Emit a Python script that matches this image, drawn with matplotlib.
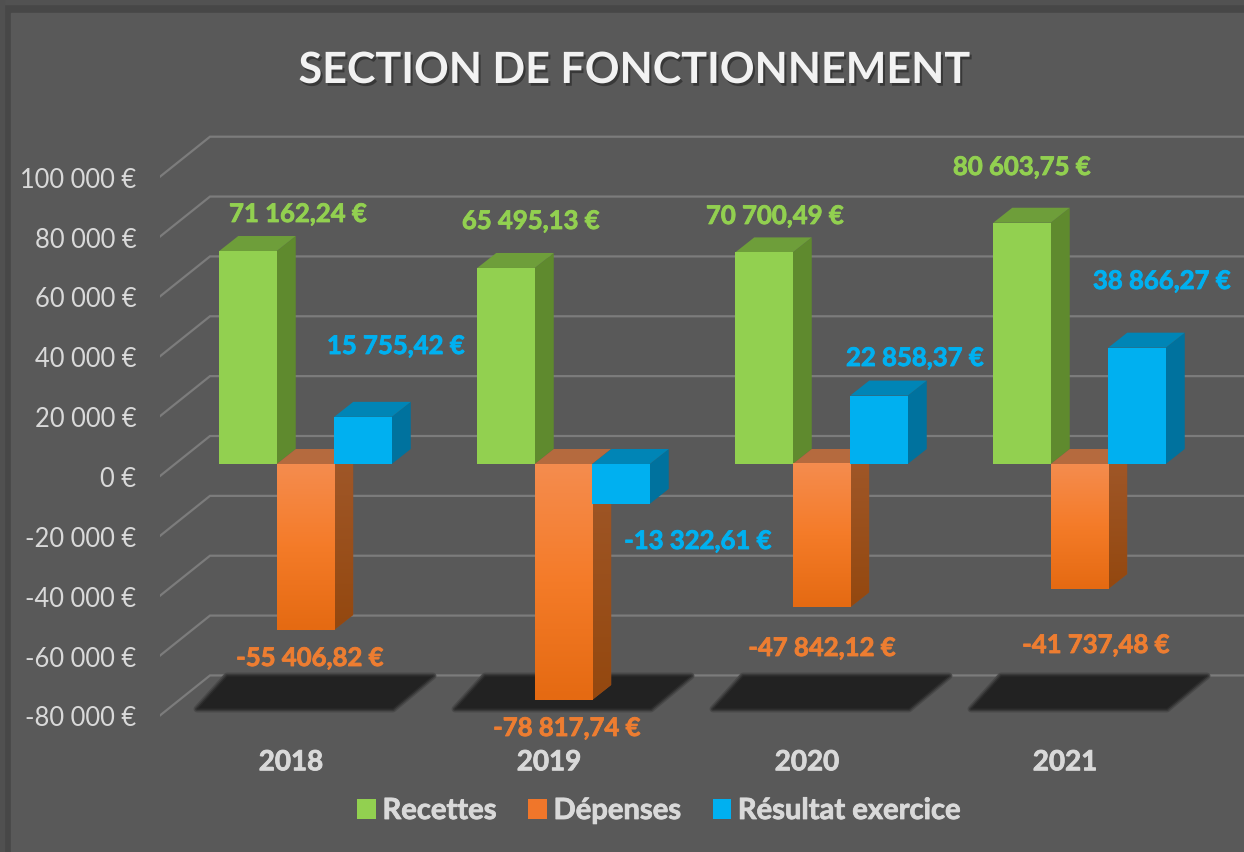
import numpy as np
import matplotlib
matplotlib.use("Agg")
import matplotlib.pyplot as plt
import matplotlib.patheffects as pe
from matplotlib.patches import Polygon, Rectangle

plt.rcParams['font.family'] = ['Lato', 'DejaVu Sans']

years = ["2018", "2019", "2020", "2021"]
recettes = [71162.24, 65495.13, 70700.49, 80603.75]
depenses = [-55406.82, -78817.74, -47842.12, -41737.48]
resultat = [15755.42, -13322.61, 22858.37, 38866.27]
axis_values = [100000, 80000, 60000, 40000, 20000, 0, -20000, -40000, -60000, -80000]

series_names = ["Recettes", "Dépenses", "Résultat exercice"]
series_values = [recettes, depenses, resultat]
front_colors = ["#92D050", "#F0762A", "#00B0F0"]
top_colors = ["#6E9E3A", "#B56A3E", "#0085B6"]
side_colors = ["#5F8A2E", "#9A5022", "#00729E"]
label_colors = ["#92D050", "#ED7D31", "#00B0F0"]

# label centres in picture pixels
label_pos = [
    [(298, 215), (531, 222), (775, 217), (1022, 168)],
    [(310, 659), (567, 729), (822, 649), (1096, 646)],
    [(396, 347), (698, 542), (915, 359), (1162, 282)],
]

W, H = 1244, 853
PX_PER_UNIT = 0.002993
STEP = 258.0
CENTER0 = 305.5
Y0 = 465.0
AX_TOP, AX_BOTTOM = 14, 735
AX_LEFT = 160


def data_x(px):
    return (px - CENTER0) / STEP


def data_y(py):
    return (Y0 - py) / PX_PER_UNIT


def fmt_euro(v):
    s = f"{abs(v):,.2f}".replace(",", " ").replace(".", ",")
    return ("-" if v < 0 else "") + s + " €"


def heavier(color):
    # Lato bold is a bit lighter than the original font
    return [pe.withStroke(linewidth=0.6, foreground=color)]


fig = plt.figure(figsize=(W / 100, H / 100), dpi=100, facecolor="#595959")

# darker frame around the chart
fig.patches.append(Rectangle((0, 0), 1, 1, transform=fig.transFigure, color="#474747", zorder=-5))
fig.patches.append(Rectangle((0, 1 - 5 / H), 1, 5 / H, transform=fig.transFigure, color="#525252", zorder=-4))
fig.patches.append(Rectangle((0, 0), 4 / W, 1, transform=fig.transFigure, color="#505050", zorder=-4))
fig.patches.append(Rectangle((11 / W, 0), 1 - 11 / W, 1 - 14 / H, transform=fig.transFigure,
                             color="#595959", zorder=-3))

ax = fig.add_axes([AX_LEFT / W, 1 - AX_BOTTOM / H, (W - AX_LEFT) / W, (AX_BOTTOM - AX_TOP) / H])
ax.patch.set_visible(False)
for s in ax.spines.values():
    s.set_visible(False)
xlim = (data_x(AX_LEFT), data_x(W))
ylim = (data_y(AX_BOTTOM), data_y(AX_TOP))

bar_w = 57.5 / STEP
dx = 19 / STEP
dy = 15 / PX_PER_UNIT
back_dy = 28 / PX_PER_UNIT   # back wall compared to the bars front
front_dy = -12 / PX_PER_UNIT  # axis front edge compared to the bars front

# gridlines on the back wall + the diagonal part
for v in axis_values:
    ax.plot([data_x(160), data_x(210), data_x(W)],
            [v + front_dy, v + back_dy, v + back_dy],
            color="#7c7c7c", lw=1.6, zorder=1, solid_joinstyle="miter")

# floor shadows, soft edge from a few wide strokes
for i in range(len(years)):
    c = i * STEP
    pts = [(197 + c, 710), (393 + c, 710), (433 + c, 677), (227 + c, 677)]
    pts = [(data_x(a), data_y(b)) for a, b in pts]
    for lw, col in [(5, "#4a4a4a"), (3, "#3a3a3a"), (1, "#2a2a2a")]:
        ax.add_patch(Polygon(pts, closed=True, facecolor="#222222", edgecolor=col, lw=lw,
                             joinstyle="round", zorder=2))

handles = []
z = 3
for s in range(3):
    offset = (s - 1) * bar_w
    bars = ax.bar(np.arange(len(years)) + offset, series_values[s], width=bar_w,
                  color=front_colors[s], zorder=z + 2 + 10 * s, label=series_names[s])
    handles.append(bars)
    for i, v in enumerate(series_values[s]):
        x0 = i + offset - bar_w / 2
        x1 = x0 + bar_w
        top = max(v, 0)
        low = min(v, 0)
        zz = z + 10 * s
        side = Polygon([(x1, top), (x1 + dx, top + dy), (x1 + dx, low + dy), (x1, low)],
                       closed=True, facecolor=side_colors[s], edgecolor="none", zorder=zz)
        cap = Polygon([(x0, top), (x1, top), (x1 + dx, top + dy), (x0 + dx, top + dy)],
                      closed=True, facecolor=top_colors[s], edgecolor="none", zorder=zz)
        ax.add_patch(side)
        ax.add_patch(cap)
        if s == 1:
            # orange bars fade down, the other series are flat
            grad = np.linspace(0, 1, 100).reshape(-1, 1)
            cm = matplotlib.colors.LinearSegmentedColormap.from_list("o", ["#F58C4E", "#F47B28", "#E56A12"])
            ax.imshow(grad, extent=(x0, x1, v, 0), aspect="auto", cmap=cm, zorder=zz + 3)
            cm2 = matplotlib.colors.LinearSegmentedColormap.from_list("o2", ["#A0582A", "#94480F"])
            im = ax.imshow(grad, extent=(x1, x1 + dx, low, dy), aspect="auto", cmap=cm2, zorder=zz + 1)
            im.set_clip_path(side.get_path(), side.get_transform())

    for i, v in enumerate(series_values[s]):
        px, py = label_pos[s][i]
        ax.text(data_x(px), data_y(py), fmt_euro(v), color=label_colors[s], fontsize=18.5,
                fontweight="bold", ha="center", va="center", zorder=50,
                path_effects=heavier(label_colors[s]))

ax.set_xlim(xlim)
ax.set_ylim(ylim)

ax.set_yticks([v + front_dy for v in axis_values])
ax.set_yticklabels([fmt_euro(v).replace(",00", "") for v in axis_values])
ax.tick_params(axis="y", length=0, pad=17, labelsize=18.4, labelcolor="#d9d9d9")
ax.set_xticks([i - 14.5 / STEP for i in range(len(years))])
ax.set_xticklabels(years, fontweight="bold", path_effects=heavier("#d9d9d9"))
ax.tick_params(axis="x", length=0, pad=11, labelsize=20, labelcolor="#d9d9d9")

fig.text(634 / W, 1 - 71 / H, "SECTION DE FONCTIONNEMENT", color="#f2f2f2", fontsize=31, fontweight="bold",
         ha="center", va="center",
         path_effects=[pe.withSimplePatchShadow(offset=(1.5, -2), shadow_rgbFace="#222222", alpha=0.6)])

leg = fig.legend(handles=handles, labels=series_names, loc="center", bbox_to_anchor=(659 / W, 1 - 812 / H),
                 ncol=3, frameon=False, prop={"size": 21, "weight": "bold"},
                 handlelength=0.62, handleheight=0.7, handletextpad=0.24, columnspacing=1.1)
for t in leg.get_texts():
    t.set_color("#d9d9d9")
    t.set_path_effects(heavier("#d9d9d9"))

fig.savefig("out.png", dpi=100, facecolor=fig.get_facecolor())
